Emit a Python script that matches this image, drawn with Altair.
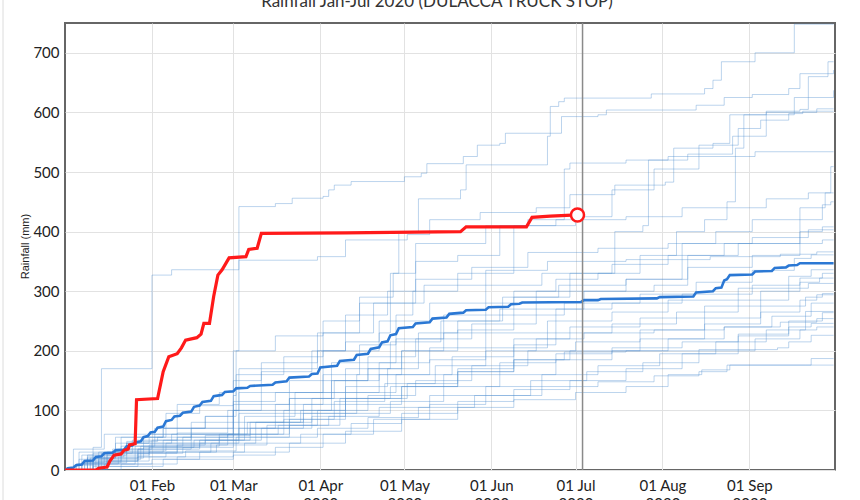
import altair as alt
import pandas as pd

TITLE = "Rainfall Jan-Jul 2020 (DULACCA TRUCK STOP)"
Y_TITLE = "Rainfall (mm)"
BASE = pd.Timestamp("2020-01-01")

# [day offset from 01 Jan 2020, cumulative rainfall mm] (step after each point)
h01 = [[0,0],[6,12],[14,30],[22,48],[33,55],[36,95],[48,108],[60,125],[61,200],[75,225],[92,250],[105,290],[117,330],[119,400],[126,455],[141,470],[143,512],[171,512],[172,560],[173,610],[176,618],[178,624],[209,631],[228,640],[231,654],[234,685],[246,700],[260,748],[274,748]]
h02 = [[0,0],[4,10],[10,38],[13,170],[31,327],[38,336],[62,352],[90,358],[100,386],[122,395],[130,420],[148,432],[168,440],[180,462],[196,478],[214,483],[217,540],[231,548],[237,596],[250,602],[262,605],[265,660],[272,685],[274,685]]
h03 = [[0,0],[10,15],[20,40],[32,60],[40,110],[55,130],[60,200],[62,442],[75,447],[81,456],[92,459],[94,470],[96,478],[102,484],[121,492],[127,498],[129,514],[142,526],[147,545],[155,548],[157,565],[177,593],[190,596],[193,604],[225,612],[235,625],[245,630],[258,640],[262,665],[274,671]]
h04 = [[0,0],[6,25],[20,55],[35,70],[50,90],[60,100],[62,170],[70,180],[90,200],[100,215],[112,230],[116,330],[125,350],[140,360],[155,410],[165,420],[178,505],[180,515],[200,520],[222,530],[238,560],[250,600],[260,625],[274,637]]
h05 = [[0,0],[4,10],[15,30],[25,40],[40,55],[58,60],[60,100],[80,120],[95,150],[108,170],[120,200],[135,230],[150,280],[160,300],[175,320],[190,330],[205,360],[218,400],[228,420],[236,450],[239,540],[242,596],[260,600],[268,606],[274,606]]
h06 = [[0,0],[8,20],[18,35],[28,55],[45,80],[60,115],[75,130],[92,160],[105,210],[118,260],[124,300],[140,330],[160,410],[182,425],[195,470],[210,505],[226,545],[240,573],[248,587],[258,598],[263,602],[274,602]]
h07 = [[0,0],[12,30],[22,45],[31,50],[45,60],[65,80],[85,110],[100,140],[115,170],[126,230],[140,250],[155,270],[168,300],[180,330],[196,400],[206,410],[208,520],[215,526],[246,534],[274,534]]
h08 = [[0,0],[10,10],[25,30],[40,40],[55,50],[70,70],[88,90],[100,110],[120,140],[140,170],[160,210],[175,270],[185,300],[200,320],[220,380],[232,400],[245,420],[262,440],[271,465],[273,509],[274,509]]
h09 = [[0,0],[9,20],[18,45],[30,60],[45,70],[60,150],[70,165],[88,200],[100,260],[115,300],[125,380],[150,410],[175,420],[200,425],[220,440],[250,455],[265,465],[274,465]]
h10 = [[0,0],[12,15],[26,35],[45,60],[60,110],[80,130],[95,180],[118,220],[135,260],[160,290],[180,300],[210,310],[222,360],[240,380],[262,420],[270,445],[273,450],[274,450]]
h11 = [[0,0],[8,25],[22,45],[38,60],[62,130],[80,150],[92,200],[112,250],[130,280],[150,310],[170,330],[195,345],[215,360],[235,380],[262,400],[270,408],[274,408]]
h12 = [[0,0],[5,30],[18,55],[35,70],[58,100],[70,170],[90,230],[105,280],[125,320],[145,340],[165,365],[190,372],[215,380],[245,390],[265,403],[274,403]]
h13 = [[0,0],[10,20],[26,35],[48,50],[64,90],[82,130],[100,170],[116,215],[134,250],[156,290],[176,310],[200,320],[222,340],[245,360],[262,380],[270,386],[274,386]]
h14 = [[0,0],[3,35],[14,60],[32,70],[50,90],[61,160],[78,190],[92,230],[110,280],[128,310],[150,335],[172,350],[200,353],[230,358],[255,362],[268,366],[274,366]]
h15 = [[0,0],[15,15],[30,30],[52,45],[68,80],[88,120],[104,160],[120,200],[140,235],[160,260],[178,280],[205,295],[225,315],[245,335],[260,355],[266,361],[274,361]]
h16 = [[0,0],[7,12],[20,30],[35,50],[55,60],[62,95],[80,120],[96,150],[112,180],[130,205],[150,230],[172,250],[195,265],[215,285],[240,305],[258,325],[266,336],[274,336]]
h17 = [[0,0],[10,28],[24,50],[40,62],[58,70],[75,110],[92,150],[108,190],[125,220],[145,245],[168,270],[195,280],[220,295],[245,310],[262,322],[270,330],[274,330]]
h18 = [[0,0],[3,8],[15,25],[30,38],[48,45],[62,60],[80,85],[100,130],[118,160],[138,190],[160,220],[180,240],[205,255],[228,275],[248,300],[262,315],[269,322],[274,322]]
h19 = [[0,0],[12,18],[27,40],[42,55],[60,80],[78,100],[95,130],[112,160],[130,185],[150,205],[172,230],[195,245],[218,265],[240,285],[258,305],[265,313],[274,313]]
h20 = [[0,0],[8,22],[21,32],[36,45],[55,55],[72,75],[90,100],[108,125],[125,150],[145,175],[165,200],[182,215],[205,235],[228,255],[248,275],[264,290],[270,296],[274,296]]
h21 = [[0,0],[5,18],[17,35],[31,45],[50,58],[66,80],[84,100],[100,120],[120,140],[140,165],[160,185],[180,200],[205,220],[228,245],[248,265],[262,285],[268,294],[274,294]]
h22 = [[0,0],[10,6],[26,22],[43,32],[61,55],[80,75],[98,95],[116,115],[135,140],[155,160],[175,185],[195,200],[215,220],[235,240],[252,258],[266,280],[274,280]]
h23 = [[0,0],[7,12],[22,28],[40,42],[58,60],[76,75],[94,90],[112,105],[130,125],[150,140],[170,160],[190,175],[212,195],[232,215],[250,235],[264,266],[274,266]]
h24 = [[0,0],[14,10],[31,18],[48,30],[64,45],[84,60],[102,78],[120,95],[140,115],[160,135],[180,150],[200,170],[220,195],[240,225],[258,250],[270,264],[274,264]]
h25 = [[0,0],[9,15],[26,28],[42,38],[60,60],[78,85],[96,115],[114,145],[132,175],[150,200],[168,220],[185,230],[210,235],[235,240],[255,248],[268,254],[274,254]]
h26 = [[0,0],[11,20],[28,38],[46,50],[62,70],[80,95],[98,120],[116,140],[135,160],[155,180],[175,195],[195,205],[220,215],[240,228],[258,240],[266,246],[274,246]]
h27 = [[0,0],[6,10],[19,22],[36,30],[54,42],[72,55],[90,70],[108,88],[126,105],[146,125],[166,150],[186,165],[206,180],[226,200],[246,220],[262,235],[268,240],[274,240]]
h28 = [[0,0],[13,28],[30,42],[50,50],[66,70],[85,95],[104,120],[122,145],[140,165],[160,185],[178,198],[200,200],[226,202],[254,205],[258,215],[266,226],[274,226]]
h29 = [[0,0],[20,10],[40,22],[60,30],[80,45],[100,65],[120,85],[140,105],[160,118],[182,130],[200,140],[215,160],[227,168],[237,176],[264,176],[266,187],[274,187]]
h30 = [[0,0],[15,6],[35,18],[60,25],[75,38],[92,60],[110,85],[130,110],[150,125],[170,140],[190,148],[210,158],[226,165],[236,176],[274,176]]
history = [h01,h02,h03,h04,h05,h06,h07,h08,h09,h10,h11,h12,h13,h14,h15,h16,h17,h18,h19,h20,
           h21,h22,h23,h24,h25,h26,h27,h28,h29,h30]

# median of past years (small stair steps)
median = [[0,0],[1,3],[3,4],[4,8],[6,9],[7,15],[10,16],[11,22],[13,23],[14,28],[17,29],[18,33],[21,34],[22,40],[24,41],[25,46],[27,48],[28,55],[29.5,57],[30.5,63],[32,64],[33,71],[35,73],[36,82],[38,84],[39,90],[41,91],[42,96],[45,98],[46,106],[48,108],[49,114],[52,116],[53,124],[56,126],[57,131],[60,132],[61,137],[65,138],[66,141],[74,143],[75,147],[79,149],[80,155],[87,157],[88,161],[90,162],[91,172],[97,175],[98,183],[103,185],[104,193],[108,195],[109,203],[112,206],[113,214],[115,216],[116,226],[118,228],[119,238],[124,240],[125,246],[130,248],[131,254],[136,256],[137,262],[142,264],[143,268],[150,269],[151,273],[158,274],[159,278],[162,279],[163,281],[184,282],[185,285],[190,285],[191,287],[211,288],[212,290],[224,291],[225,298],[231,300],[232,305],[234,306],[235,318],[236,320],[237,327],[245,328],[246,333],[252,334],[253,339],[257,340],[258,343],[261,344],[262,347],[274,347]]

current = [[0,0],[11,0],[12,3],[15,5],[16,15],[17.5,25],[20,27],[21,33],[22.5,35],[23,42],[25,44],[25.5,118],[33,120],[35,165],[37,190],[40,195],[41.5,205],[43,218],[47,222],[48.5,228],[49.5,246],[51.5,246],[53,291],[54.5,327],[56,336],[58.5,356],[64.5,358],[65.5,370],[68.5,372],[70,397],[100,398],[141,400],[143,408],[164.5,408],[166.5,424],[173,426],[182.7,428]]
today_day = 184.5
month_ticks = [2, 3, 4, 5, 6, 7, 8, 9]


def to_date(d):
    return (BASE + pd.Timedelta(days=d)).strftime("%Y-%m-%dT%H:%M:%SZ")


rows = []
for i, s in enumerate(history):
    for d, v in s:
        rows.append({"series": f"h{i+1:02d}", "date": to_date(d), "value": v})
hist_df = pd.DataFrame(rows)
med_df = pd.DataFrame([{"date": to_date(d), "value": v} for d, v in median])
cur_df = pd.DataFrame([{"date": to_date(d), "value": v} for d, v in current])
end_df = cur_df.tail(1)
today_df = pd.DataFrame([{"date": to_date(today_day)}])

xscale = alt.Scale(type="utc",
                   domain=[alt.DateTime(year=2020, month=1, date=1, utc=True),
                           alt.DateTime(year=2020, month=10, date=1, hours=12, utc=True)])
yscale = alt.Scale(domain=[0, 750], nice=False)

xaxis = alt.Axis(values=[alt.DateTime(year=2020, month=m, date=1, utc=True) for m in month_ticks],
                 labelExpr="[utcFormat(datum.value, '%d %b'), utcFormat(datum.value, '%Y')]",
                 title=None, ticks=False, domain=False, labelPadding=8,
                 labelFont="Lato", labelFontSize=15, labelColor="#222",
                 labelLineHeight=18, gridColor="#e2e2e2")
yaxis = alt.Axis(values=list(range(0, 701, 100)), title=Y_TITLE, ticks=False, domain=False,
                 labelFont="Lato", labelFontSize=15, labelColor="#222", labelPadding=6,
                 titleFont="Liberation Sans", titleFontSize=11, titleFontWeight="normal",
                 titleColor="#222", titleX=-40, titleY=223, titleAngle=-90,
                 titleAlign="center", titleBaseline="middle", gridColor="#e2e2e2")

X = alt.X("date:T", scale=xscale, axis=xaxis)
Y = alt.Y("value:Q", scale=yscale, axis=yaxis)

hist = alt.Chart(hist_df).mark_line(interpolate="step-after", strokeWidth=1,
                                    color="#4f8fd0", opacity=0.38, clip=True).encode(
    x=X, y=Y, detail="series:N")
med = alt.Chart(med_df).mark_line(interpolate="linear", strokeWidth=2.6,
                                  color="#2b78d4", clip=True).encode(
    x=alt.X("date:T"), y=alt.Y("value:Q"))
cur = alt.Chart(cur_df).mark_line(strokeWidth=3.2, color="#ff1a1a", clip=True).encode(
    x=alt.X("date:T"), y=alt.Y("value:Q"))
today = alt.Chart(today_df).mark_rule(color="#8a8a8a", strokeWidth=1.5).encode(x=alt.X("date:T"))
endpt = alt.Chart(end_df).mark_point(shape="circle", filled=True, fill="white",
                                     stroke="#ff1a1a", strokeWidth=2.5, size=170,
                                     opacity=1).encode(x=alt.X("date:T"), y=alt.Y("value:Q"))
title = alt.Chart(pd.DataFrame({"t": [TITLE]})).mark_text(
    font="Lato", fontSize=17, color="#333", align="center", baseline="alphabetic").encode(
    text="t:N", x=alt.value(372), y=alt.value(-16))
frame = alt.Chart(pd.DataFrame({"a": [0]})).mark_rule(color="#dcdcdc", strokeWidth=1).encode(
    x=alt.value(-62), y=alt.value(-30), y2=alt.value(500))

chart = alt.layer(frame, hist, med, cur, today, endpt, title).properties(
    width=770, height=447,
    autosize=alt.AutoSizeParams(type="none"),
    padding={"left": 65, "top": 23, "right": 25, "bottom": 45},
).configure_view(stroke="#666666", strokeWidth=2)

chart.save("out.html", embed_options={"renderer": "svg", "actions": False})
